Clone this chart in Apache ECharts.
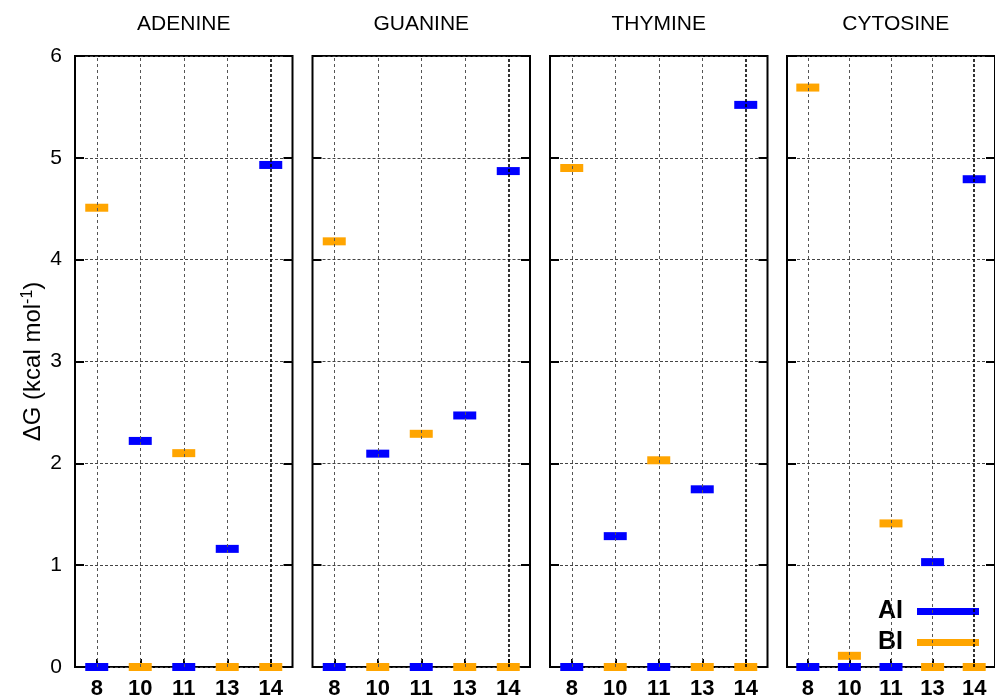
<!DOCTYPE html>
<html>
<head>
<meta charset="utf-8">
<script src="https://cdn.jsdelivr.net/npm/echarts@6/dist/echarts.min.js"></script>
<style>
html,body{margin:0;padding:0;background:#fff;}
#chart{width:995px;height:700px;}
</style>
</head>
<body>
<div id="chart"></div>
<script>
// ---- data ----
const categories = ['8', '10', '11', '13', '14'];
const panelTitles = ['ADENINE', 'GUANINE', 'THYMINE', 'CYTOSINE'];
const seriesNames = ['AI', 'BI'];
const aiAdenine  = [0, 2.22, 0, 1.16, 4.93];
const biAdenine  = [4.51, 0, 2.10, 0, 0];
const aiGuanine  = [0, 2.095, 0, 2.47, 4.87];
const biGuanine  = [4.18, 0, 2.29, 0, 0];
const aiThymine  = [0, 1.285, 0, 1.745, 5.52];
const biThymine  = [4.90, 0, 2.03, 0, 0];
const aiCytosine = [0, 0, 0, 1.03, 4.79];
const biCytosine = [5.69, 0.11, 1.41, 0, 0];
const yMin = 0, yMax = 6, yStep = 1;

const aiData = [aiAdenine, aiGuanine, aiThymine, aiCytosine];
const biData = [biAdenine, biGuanine, biThymine, biCytosine];

// ---- layout / style ----
const FONT = "'Liberation Sans', Arial, Helvetica, sans-serif";
const colors = { AI: '#0000ff', BI: '#ffa500' };
const gridLefts = [75, 312.5, 550, 787];
const gridWidth = 217.5;
const gridTop = 56, gridBottom = 32;

const grids = [], xAxes = [], yAxes = [], series = [], graphics = [];

gridLefts.forEach((left, i) => {
  grids.push({
    left: left, top: gridTop, width: gridWidth, bottom: gridBottom,
    show: true, borderColor: '#000', borderWidth: 2, containLabel: false
  });
  xAxes.push({
    type: 'category', gridIndex: i, data: categories,
    axisLine: { show: false },
    axisTick: { show: true, inside: true, alignWithLabel: true, length: 8,
                lineStyle: { color: '#000', width: 2 } },
    axisLabel: { color: '#000', fontSize: 22, fontWeight: 'bold', fontFamily: FONT, margin: 11 },
    splitLine: { show: false }
  });
  const yLeft = {
    type: 'value', gridIndex: i, min: yMin, max: yMax, interval: yStep, position: 'left',
    axisLine: { show: false },
    axisTick: { show: true, inside: true, length: 9, lineStyle: { color: '#000', width: 2 } },
    axisLabel: { show: i === 0, color: '#000', fontSize: 21, fontFamily: FONT, margin: 13 },
    splitLine: { show: true, lineStyle: { color: '#444', type: [3, 2], width: 1 } }
  };
  if (i === 0) {
    yLeft.name = '{a|ΔG (kcal mol}{s|-1}{a|)}';
    yLeft.nameLocation = 'middle';
    yLeft.nameRotate = 90;
    yLeft.nameGap = 29;
    yLeft.nameTextStyle = {
      rich: {
        a: { fontSize: 24, fontFamily: FONT, color: '#000', lineHeight: 26 },
        s: { fontSize: 16, fontFamily: FONT, color: '#000', lineHeight: 26, verticalAlign: 'top', padding: [0, 0, 8, 0] }
      }
    };
  }
  yAxes.push(yLeft);
  yAxes.push({
    type: 'value', gridIndex: i, min: yMin, max: yMax, interval: yStep, position: 'right',
    axisLine: { show: false },
    axisTick: { show: true, inside: true, length: 9, lineStyle: { color: '#000', width: 2 } },
    axisLabel: { show: false },
    splitLine: { show: false }
  });

  const markerStyle = (name) => ({
    type: 'scatter', name: name, xAxisIndex: i, yAxisIndex: 2 * i,
    symbol: 'rect', symbolSize: [23, 8],
    itemStyle: { color: colors[name], opacity: 1 },
    emphasis: { disabled: true },
    animation: false, z: 3
  });
  const ai = markerStyle('AI');
  ai.data = aiData[i];
  const bi = markerStyle('BI');
  bi.data = biData[i];
  bi.markLine = {
    silent: true, symbol: ['none', 'none'], animation: false,
    label: { show: false },
    data: categories.map((c, k) => ({
      xAxis: c,
      lineStyle: k === categories.length - 1
        ? { color: '#000', type: [3, 2], width: 1.6 }
        : { color: '#555', type: [3, 3], width: 1 }
    }))
  };
  series.push(ai, bi);

  graphics.push({
    type: 'text', x: left + gridWidth / 2, y: 24, silent: true,
    style: { text: panelTitles[i], fill: '#000', font: '21px ' + FONT, align: 'center', verticalAlign: 'middle' }
  });
});

const chart = echarts.init(document.getElementById('chart'), null, { renderer: 'canvas' });
chart.setOption({
  backgroundColor: '#fff',
  animation: false,
  grid: grids,
  xAxis: xAxes,
  yAxis: yAxes,
  series: series,
  graphic: graphics,
  legend: {
    data: seriesNames.map(n => ({ name: n, icon: 'rect' })),
    orient: 'vertical', align: 'right',
    right: 16, top: 599, padding: 0,
    itemWidth: 62, itemHeight: 7, itemGap: 6,
    selectedMode: false,
    textStyle: { fontSize: 25, fontWeight: 'bold', fontFamily: FONT, color: '#000',
                 lineHeight: 25, padding: [0, 9, 0, 0] }
  }
});
</script>
</body>
</html>
